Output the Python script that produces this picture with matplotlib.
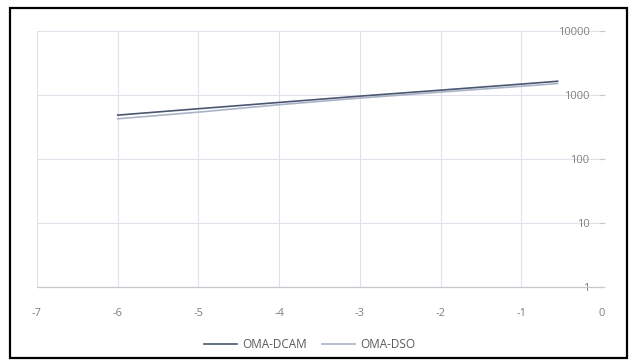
import matplotlib
matplotlib.use("Agg")
import matplotlib.pyplot as plt
from matplotlib.patches import Rectangle

plt.rcParams['font.family'] = ['Open Sans', 'DejaVu Sans']

# series
x_vals = [-6, -5, -4, -3, -2, -1, -0.55]
dcam = [485, 610, 765, 960, 1190, 1480, 1640]
dso = [425, 540, 705, 895, 1110, 1370, 1510]
series_names = ["OMA-DCAM", "OMA-DSO"]

x_ticks = [-7, -6, -5, -4, -3, -2, -1, 0]
y_ticks = [1, 10, 100, 1000, 10000]

fig = plt.figure(figsize=(6.32, 3.63), dpi=100)
ax = fig.add_axes([37 / 632, 1 - 287 / 363, (602 - 37) / 632, (287 - 31) / 363])

ax.plot(x_vals, dcam, color="#4a5672", lw=1.2, label=series_names[0], zorder=3)
ax.plot(x_vals, dso, color="#aab3c6", lw=1.2, label=series_names[1], zorder=2)

ax.set_yscale("log")
ax.set_xlim(-7, 0)
ax.set_ylim(1, 10000)
ax.set_xticks(x_ticks)
ax.set_xticklabels([str(t) for t in x_ticks])
ax.set_yticks(y_ticks)
ax.set_yticklabels([str(t) for t in y_ticks])
ax.minorticks_off()

ax.grid(True, color="#e0e1eb", lw=0.8)
ax.set_axisbelow(True)
for side in ["top", "left", "right"]:
    ax.spines[side].set_visible(False)
ax.spines["bottom"].set_color("#c8c8d0")
ax.spines["bottom"].set_linewidth(0.9)

ax.tick_params(axis="x", length=0, pad=15, labelsize=8, labelcolor="#7f7f7f")
ax.yaxis.set_ticks_position("right")
ax.tick_params(axis="y", labelright=True, labelleft=False, direction="inout",
               length=4, color="#c8c8d0", pad=-11, labelsize=8, labelcolor="#7f7f7f")
for lbl in ax.get_yticklabels():
    lbl.set_horizontalalignment("right")

leg = fig.legend(loc="center", bbox_to_anchor=(0.49, 1 - 345 / 363), ncol=2,
                 frameon=False, fontsize=8.5, handlelength=2.8, columnspacing=1.2,
                 handletextpad=0.5)
for t in leg.get_texts():
    t.set_color("#595959")

# black frame around the chart area
fig.patches.append(Rectangle((10 / 632, 1 - 358 / 363), 617 / 632, 350 / 363,
                             transform=fig.transFigure, fill=False,
                             edgecolor="black", lw=1.6))

fig.savefig("out.png", dpi=100)
